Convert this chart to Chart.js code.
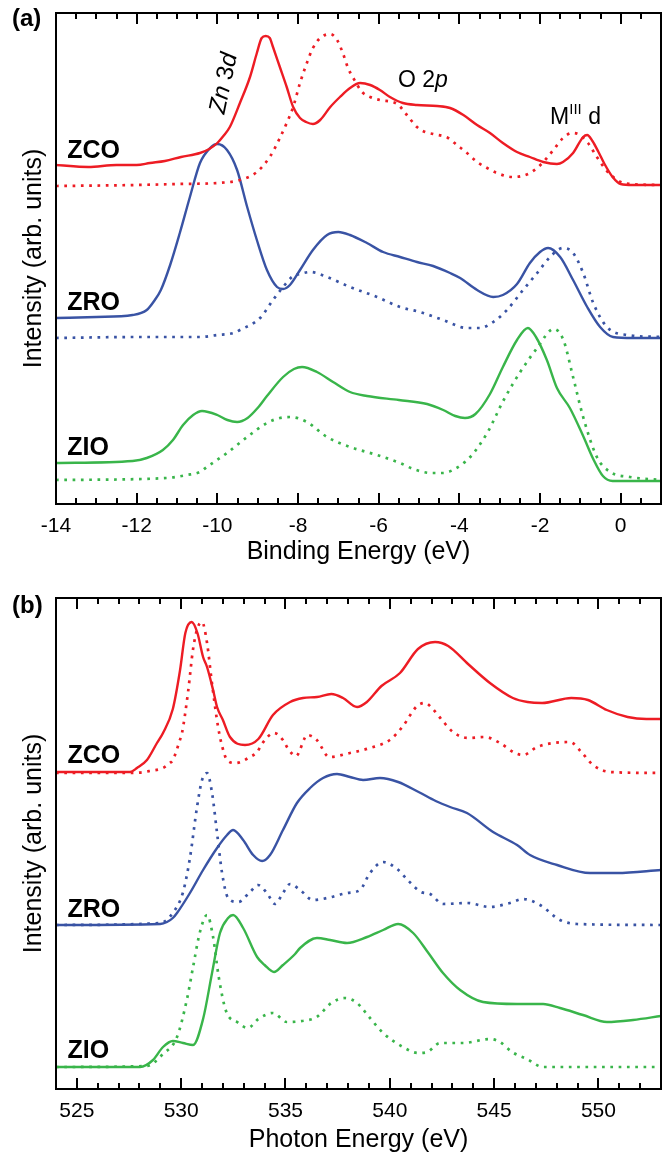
<!DOCTYPE html>
<html>
<head>
<meta charset="utf-8">
<script src="https://cdn.jsdelivr.net/npm/chart.js@4.4.1/dist/chart.umd.min.js"></script>
<style>
html,body{margin:0;padding:0;background:#fff;width:672px;height:1157px;overflow:hidden}
#c1{position:absolute;left:0;top:0}
#c2{position:absolute;left:0;top:580px}
</style>
</head>
<body>
<canvas id="c1" width="672" height="570"></canvas>
<canvas id="c2" width="672" height="577"></canvas>
<script>
// ---------- Panel (a): valence band, Binding Energy (eV) ----------
const aTicks = [-14, -12, -10, -8, -6, -4, -2, 0];

const aZcoSolidE = [-14.0,-13.2,-12.5,-12.0,-11.67,-11.3,-10.9,-10.43,-10.2,-10.0,-9.85,-9.69,-9.44,-9.19,-9.02,-8.9,-8.8,-8.7,-8.62,-8.45,-8.28,-8.12,-7.95,-7.8,-7.63,-7.45,-7.2,-6.96,-6.71,-6.46,-6.21,-5.97,-5.72,-5.4,-5.05,-4.55,-4.23,-3.9,-3.56,-3.24,-2.92,-2.57,-2.25,-1.92,-1.58,-1.43,-1.18,-0.93,-0.83,-0.7,-0.55,-0.4,-0.2,0.0,0.3,1.0];
const aZcoSolidI = [339,337,339,339,341,343,347,351,355,361,368,377,401,427,451,466,468,466,457,437,417,397,386,382,380,384,397,407,416,421,419,414,407,401,399,398,396,389,379,371,361,352,347,342,340,342,351,367,369,363,352,340,327,320,319,319];

const aZcoDotE = [-14,-12,-11,-10,-9.44,-9.02,-8.7,-8.45,-8.28,-8.12,-7.95,-7.78,-7.63,-7.45,-7.2,-7.03,-6.88,-6.76,-6.63,-6.41,-6.21,-5.97,-5.54,-5.3,-5.05,-4.85,-4.65,-4.28,-4.06,-3.81,-3.56,-3.31,-3.07,-2.67,-2.45,-2.25,-2.07,-1.83,-1.63,-1.43,-1.2,-1.01,-0.81,-0.59,-0.34,0.0,0.23,1.0];
const aZcoDotI = [318,319,320,321,324,332,347,366,381,397,421,441,456,466,470,464,450,436,426,412,407,404,400,389,377,372,370,366,359,351,342,336,331,327,328,331,336,346,356,366,371,369,361,347,333,322,320,319];

const aZroSolidE = [-14,-13,-12.1,-11.75,-11.55,-11.4,-11.17,-10.93,-10.68,-10.43,-10.18,-10.0,-9.76,-9.51,-9.26,-9.02,-8.77,-8.52,-8.37,-8.2,-7.95,-7.63,-7.28,-7.0,-6.71,-6.29,-5.89,-5.47,-5.05,-4.65,-4.23,-3.98,-3.56,-3.16,-2.92,-2.57,-2.25,-2.0,-1.8,-1.5,-1.18,-0.83,-0.51,-0.19,0.31,1.0];
const aZroSolidI = [186,187,189,194,204,214,239,271,307,341,356,360,354,334,297,264,234,217,215,219,234,254,269,272,269,261,252,247,242,238,231,226,214,207,209,220,241,252,256,247,224,197,177,167,166,166];

const aZroDotE = [-14,-12,-10.43,-10.0,-9.6,-9.44,-8.94,-8.62,-8.37,-8.12,-7.95,-7.7,-7.28,-6.71,-6.04,-5.47,-4.98,-4.4,-3.81,-3.49,-3.16,-2.82,-2.42,-2.07,-1.75,-1.43,-1.18,-0.93,-0.68,-0.34,0.16,1.0];
const aZroDotI = [166,167,167,169,171,174,186,204,217,228,230,232,227,217,207,197,192,184,176,176,182,194,214,231,247,256,251,231,201,177,169,167];

const aZioSolidE = [-14,-12.1,-11.75,-11.35,-11.1,-10.85,-10.6,-10.38,-10.0,-9.75,-9.51,-9.25,-9.0,-8.77,-8.37,-8.1,-7.9,-7.53,-7.13,-6.71,-6.29,-5.5,-4.8,-4.4,-4.1,-3.86,-3.6,-3.24,-2.92,-2.57,-2.3,-2.1,-1.83,-1.58,-1.26,-0.93,-0.68,-0.44,-0.2,0.3,1.0];
const aZioSolidI = [41,43,46,54,64,79,89,93,89,84,82,86,96,108,127,135,137,132,122,112,108,104,100,94,88,86,90,110,137,164,176,167,144,116,96,68,45,28,23,23,23];

const aZioDotE = [-14,-11.25,-10.76,-10.43,-10.26,-9.76,-9.26,-8.77,-8.45,-8.2,-7.78,-7.28,-6.71,-6.04,-5.47,-5.14,-4.7,-4.4,-4.16,-3.73,-3.31,-2.9,-2.49,-2.07,-1.66,-1.42,-1.18,-0.93,-0.59,-0.26,0.23,1.0];
const aZioDotI = [24,26,29,32,37,51,67,81,86,87,82,67,57,49,41,35,31,31,34,47,71,104,132,156,175,164,127,87,47,32,27,24];

// ---------- Panel (b): O K-edge, Photon Energy (eV) ----------
const bTicks = [525, 530, 535, 540, 545, 550];

const bZcoSolidE = [524,527.55,527.88,528.36,528.84,529.13,529.6,529.94,530.2,530.5,530.78,531.05,531.24,531.53,531.72,532.0,532.34,533.06,533.7,534.4,535.22,535.84,536.51,537.2,537.76,538.43,538.9,539.6,540.49,541.35,542.17,542.8,543.75,544.8,545.9,546.6,547.3,548.7,549.5,550.4,551.4,552.3,553];
const bZcoSolidI = [317,317,321,329,346,356,380,418,456,467,456,432,422,399,382,369,352,344,350,374,387,391,392,395,391,382,387,403,416,440,447,443,425,406,391,387,386,391,389,379,372,370,370];

const bZcoDotE = [524,527.7,528.5,529.13,529.46,529.6,529.94,530.04,530.33,530.57,530.8,531.0,531.24,531.48,531.77,531.96,532.2,532.6,533.3,533.64,533.9,534.45,534.88,535.1,535.5,536.05,536.5,537.1,538.09,539.05,540.0,540.6,541.31,541.69,542.02,542.5,543.03,543.75,544.56,545.28,546.0,546.39,547.06,547.83,548.64,549.22,549.74,550.56,553];
const bZcoDotI = [316,316,318,321,326,329,349,356,397,440,462,467,446,405,362,343,329,326,332,337,346,356,349,341,333,354,349,332,336,341,349,362,383,386,381,369,357,351,352,346,336,334,342,346,347,336,324,317,316];

const bZroSolidE = [524,529.0,529.32,529.6,529.8,530.42,531.05,531.72,532.2,532.49,532.97,533.45,533.88,534.26,534.88,535.55,536.18,536.8,537.47,538.09,538.72,539.53,540.4,541.38,542.2,542.89,543.7,544.95,546.1,546.72,548.02,549.6,550.89,553];
const bZroSolidI = [164,165,167,171,176,196,219,241,254,259,249,234,228,234,259,286,301,311,315,312,309,311,307,297,288,282,276,257,244,234,224,216,216,219];

const bZroDotE = [524,529.0,529.6,530.09,530.42,530.76,531.0,531.24,531.48,531.72,531.96,532.25,532.73,533.3,533.68,534.11,534.5,534.88,535.22,535.7,536.32,537.0,537.95,538.57,539.05,539.68,540.35,540.9,541.5,541.93,542.55,543.7,544.8,545.76,546.39,547.2,548.16,548.98,553];
const bZroDotI = [164,166,176,197,231,282,309,316,296,256,216,191,187,197,204,196,185,196,205,199,189,191,196,199,216,227,220,208,197,195,185,186,182,186,190,184,169,165,164];

const bZioSolidE = [524,528.03,528.65,529.13,529.6,530.09,530.57,531.05,531.48,531.86,532.25,532.49,532.97,533.64,534.0,534.45,534.88,535.46,535.7,536.51,537.14,537.95,538.91,539.68,540.4,541.12,541.85,542.55,543.37,544.47,546.1,547.35,548.16,549.26,550.41,551.66,553];
const bZioSolidI = [22,22,29,42,48,46,44,70,116,156,171,174,161,132,124,117,124,135,141,151,149,146,152,159,165,156,136,116,99,87,85,85,81,74,67,69,73];

const bZioDotE = [524,528.36,529.13,529.8,530.28,530.57,530.9,531.24,531.53,531.8,532.15,532.68,533.2,533.7,534.4,535.07,535.8,536.5,537.2,537.86,538.43,539.05,539.68,540.63,541.36,541.8,542.41,543.51,544.8,545.28,545.86,546.58,547.35,553];
const bZioDotI = [22,23,35,52,90,122,157,174,152,112,78,67,61,70,76,67,68,72,86,91,86,71,56,42,36,37,46,46,50,47,37,30,22,22];

// ---------- styling ----------
const FONT = '"Liberation Sans", Arial, Helvetica, sans-serif';
const RED = 'rgb(237,28,36)', BLUE = 'rgb(57,83,164)', GREEN = 'rgb(57,181,74)';

function series(E, I, color, dotted) {
  return {
    data: E.map((x, i) => ({ x: x, y: I[i] })),
    borderColor: color,
    backgroundColor: color,
    borderWidth: dotted ? 2.7 : 2.4,
    borderDash: dotted ? [2.7, 5.6] : [],
    borderCapStyle: 'butt',
    borderJoinStyle: 'round',
    pointRadius: 0,
    fill: false,
    cubicInterpolationMode: 'monotone'
  };
}

const framePlugin = {
  id: 'frame',
  afterDraw(chart, args, opts) {
    const ctx = chart.ctx;
    const { left, right, top, bottom } = chart.chartArea;
    const xs = chart.scales.x;
    ctx.save();
    ctx.strokeStyle = '#000';
    ctx.lineWidth = 2;
    ctx.lineCap = 'butt';
    const drawTick = (v, len) => {
      const p = Math.round(xs.getPixelForValue(v));
      if (p <= left + 1 || p >= right - 1) return;
      ctx.beginPath();
      ctx.moveTo(p, bottom); ctx.lineTo(p, bottom - len);
      ctx.moveTo(p, top); ctx.lineTo(p, top + len);
      ctx.stroke();
    };
    for (let v = xs.min; v <= xs.max + 1e-9; v += opts.minor) drawTick(v, 6);
    opts.major.forEach(v => drawTick(v, 11));
    ctx.strokeRect(left, top, right - left, bottom - top);
    ctx.restore();
  }
};

const annotPlugin = {
  id: 'annot',
  afterDraw(chart, args, opts) {
    const ctx = chart.ctx, xs = chart.scales.x, ys = chart.scales.y;
    (opts.items || []).forEach(it => {
      const px = it.px != null ? it.px : xs.getPixelForValue(it.x);
      const py = it.py != null ? it.py : ys.getPixelForValue(it.y);
      ctx.save();
      ctx.translate(px, py);
      if (it.rot) ctx.rotate(it.rot * Math.PI / 180);
      ctx.fillStyle = '#000';
      ctx.textBaseline = 'alphabetic';
      ctx.textAlign = 'left';
      const fontOf = s => `${s.style || 'normal'} ${it.weight || 'normal'} ${s.size || it.size}px ${FONT}`;
      let total = 0;
      it.segs.forEach(s => { ctx.font = fontOf(s); total += ctx.measureText(s.t).width; });
      let cx = it.align === 'center' ? -total / 2 : 0;
      const dy0 = it.vcenter ? it.size * 0.36 : 0;
      it.segs.forEach(s => {
        ctx.font = fontOf(s);
        ctx.fillText(s.t, cx, dy0 + (s.dy || 0));
        cx += ctx.measureText(s.t).width;
      });
      ctx.restore();
    });
  }
};

function makeChart(id, cfg) {
  return new Chart(document.getElementById(id), {
    type: 'line',
    data: { datasets: cfg.datasets },
    options: {
      responsive: false,
      devicePixelRatio: 1,
      animation: false,
      layout: { padding: { left: 0, right: 11, top: cfg.padTop, bottom: 0 } },
      plugins: {
        legend: { display: false },
        tooltip: { enabled: false },
        frame: { major: cfg.ticks, minor: cfg.minor },
        annot: { items: cfg.annots }
      },
      scales: {
        x: {
          type: 'linear',
          min: cfg.xmin, max: cfg.xmax,
          afterBuildTicks: s => { s.ticks = cfg.ticks.map(v => ({ value: v })); },
          afterFit: s => { s.height = cfg.xHeight; },
          ticks: { font: { family: FONT, size: 21 }, color: '#000', padding: 10, maxRotation: 0, autoSkip: false, callback: v => String(v) },
          grid: { display: false, drawTicks: false },
          border: { display: false },
          title: { display: true, text: cfg.xTitle, color: '#000', font: { family: FONT, size: 25 }, padding: { top: 0, bottom: cfg.titlePad } }
        },
        y: {
          type: 'linear',
          min: 0, max: 491,
          afterFit: s => { s.width = 56; },
          ticks: { display: false },
          grid: { display: false, drawTicks: false },
          border: { display: false },
          title: { display: true, text: 'Intensity (arb. units)', color: '#000', font: { family: FONT, size: 25 }, padding: { top: 19, bottom: 0 } }
        }
      }
    },
    plugins: [framePlugin, annotPlugin]
  });
}

makeChart('c1', {
  datasets: [
    series(aZcoDotE, aZcoDotI, RED, true),
    series(aZroDotE, aZroDotI, BLUE, true),
    series(aZioDotE, aZioDotI, GREEN, true),
    series(aZcoSolidE, aZcoSolidI, RED, false),
    series(aZroSolidE, aZroSolidI, BLUE, false),
    series(aZioSolidE, aZioSolidI, GREEN, false)
  ],
  padTop: 13, xHeight: 66, titlePad: 3,
  xmin: -14, xmax: 1, ticks: aTicks, minor: 0.5,
  xTitle: 'Binding Energy (eV)',
  annots: [
    { px: 12, py: 26, size: 24, weight: 'bold', segs: [{ t: '(a)' }] },
    { x: -13.72, y: 346, size: 25, weight: 'bold', segs: [{ t: 'ZCO' }] },
    { x: -13.72, y: 194, size: 25, weight: 'bold', segs: [{ t: 'ZRO' }] },
    { x: -13.72, y: 49, size: 25, weight: 'bold', segs: [{ t: 'ZIO' }] },
    { x: -9.88, y: 421, size: 24, rot: -78, align: 'center', vcenter: true,
      segs: [{ t: 'Zn', style: 'italic' }, { t: ' 3' }, { t: 'd', style: 'italic' }] },
    { x: -5.52, y: 417, size: 23, segs: [{ t: 'O 2' }, { t: 'p', style: 'italic' }] },
    { x: -1.75, y: 380, size: 23, segs: [{ t: 'M' }, { t: 'III', size: 15, dy: -10 }, { t: ' d' }] }
  ]
});

makeChart('c2', {
  datasets: [
    series(bZcoDotE, bZcoDotI, RED, true),
    series(bZroDotE, bZroDotI, BLUE, true),
    series(bZioDotE, bZioDotI, GREEN, true),
    series(bZcoSolidE, bZcoSolidI, RED, false),
    series(bZroSolidE, bZroSolidI, BLUE, false),
    series(bZioSolidE, bZioSolidI, GREEN, false)
  ],
  padTop: 18, xHeight: 68, titlePad: 2,
  xmin: 524, xmax: 553, ticks: bTicks, minor: 1,
  xTitle: 'Photon Energy (eV)',
  annots: [
    { px: 12, py: 33, size: 24, weight: 'bold', segs: [{ t: '(b)' }] },
    { x: 524.55, y: 326, size: 25, weight: 'bold', segs: [{ t: 'ZCO' }] },
    { x: 524.55, y: 172, size: 25, weight: 'bold', segs: [{ t: 'ZRO' }] },
    { x: 524.55, y: 31, size: 25, weight: 'bold', segs: [{ t: 'ZIO' }] }
  ]
});
</script>
</body>
</html>
